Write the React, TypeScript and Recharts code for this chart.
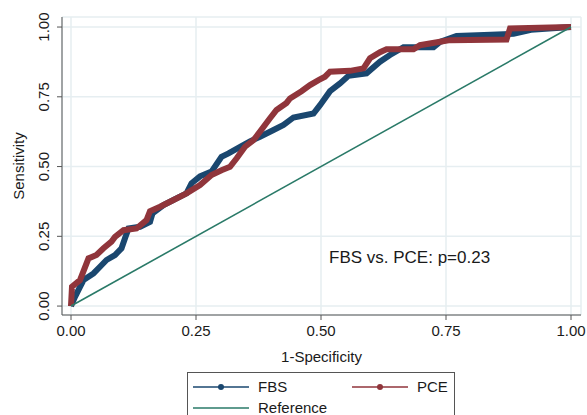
import React from 'react';
import {
  LineChart,
  Line,
  XAxis,
  YAxis,
  CartesianGrid,
  Legend,
  ReferenceDot,
} from 'recharts';

// ROC points (1-specificity, sensitivity)
const fbsFpr = [
  0, 0.008, 0.018, 0.025, 0.045, 0.058, 0.071, 0.088, 0.101, 0.108, 0.115,
  0.138, 0.158, 0.163, 0.185, 0.211, 0.231, 0.241, 0.258, 0.281, 0.301, 0.315,
  0.34, 0.358, 0.378, 0.405, 0.425, 0.445, 0.485, 0.498, 0.518, 0.538, 0.555,
  0.591, 0.618, 0.638, 0.665, 0.725, 0.738, 0.771, 0.84, 0.885, 0.92, 1,
];
const fbsTpr = [
  0, 0.033, 0.069, 0.093, 0.117, 0.141, 0.165, 0.183, 0.207, 0.243, 0.278,
  0.284, 0.302, 0.332, 0.362, 0.386, 0.404, 0.44, 0.465, 0.482, 0.535, 0.547,
  0.572, 0.59, 0.607, 0.631, 0.649, 0.676, 0.69, 0.72, 0.77, 0.798, 0.825,
  0.834, 0.876, 0.9, 0.928, 0.928, 0.947, 0.968, 0.972, 0.976, 0.99, 1,
];
const pceFpr = [
  0, 0.002, 0.018, 0.035, 0.051, 0.065, 0.081, 0.088, 0.105, 0.131, 0.151,
  0.158, 0.178, 0.205, 0.231, 0.258, 0.281, 0.301, 0.318, 0.331, 0.348, 0.365,
  0.378, 0.398, 0.411, 0.431, 0.438, 0.461, 0.478, 0.495, 0.508, 0.518, 0.558,
  0.585, 0.598, 0.618, 0.631, 0.685, 0.698, 0.738, 0.758, 0.871, 0.878, 1,
];
const pceTpr = [
  0, 0.069, 0.093, 0.171, 0.183, 0.207, 0.231, 0.248, 0.272, 0.278, 0.308,
  0.34, 0.356, 0.38, 0.404, 0.434, 0.47, 0.487, 0.499, 0.529, 0.571, 0.595,
  0.625, 0.673, 0.703, 0.728, 0.744, 0.77, 0.792, 0.81, 0.822, 0.84, 0.843,
  0.852, 0.888, 0.91, 0.92, 0.92, 0.935, 0.947, 0.953, 0.955, 0.995, 1,
];
const refFpr = [0, 1];
const refTpr = [0, 1];

const axisTicks = [0, 0.25, 0.5, 0.75, 1];
const annotation = 'FBS vs. PCE: p=0.23';

const toPoints = (xs: number[], ys: number[]) => xs.map((x, i) => ({ x, y: ys[i] }));

const fbsData = toPoints(fbsFpr, fbsTpr);
const pceData = toPoints(pceFpr, pceTpr);
const refData = toPoints(refFpr, refTpr);

const FONT = '"Liberation Sans", Arial, sans-serif';
const NAVY = '#1a476f';
const MAROON = '#90353b';
const TEAL = '#2a7a68';

function YTick({ x, y, payload }: any) {
  return (
    <text
      transform={`translate(${x},${y}) rotate(-90)`}
      textAnchor="middle"
      fontSize={15}
      fontFamily={FONT}
      fill="#1a1a1a"
    >
      {Number(payload.value).toFixed(2)}
    </text>
  );
}

function StataLegend({ payload }: any) {
  const items = payload ?? [];
  const slots = [
    { x: 6, y: 15 },
    { x: 165, y: 15 },
    { x: 6, y: 36 },
  ];
  return (
    <svg width={268} height={50} style={{ display: 'block' }}>
      <rect x={0.5} y={0.5} width={267} height={60} fill="#fff" stroke="#555" />
      {items.map((it: any, i: number) => {
        const s = slots[i];
        if (!s) return null;
        return (
          <g key={it.value}>
            <line x1={s.x} x2={s.x + 56} y1={s.y} y2={s.y} stroke={it.color} strokeWidth={1.6} />
            {it.type === 'circle' && <circle cx={s.x + 28} cy={s.y} r={3} fill={it.color} />}
            <text
              x={s.x + 65}
              y={s.y + 5}
              fontSize={15}
              fontFamily={FONT}
              fill="#1a1a1a"
            >
              {it.value}
            </text>
          </g>
        );
      })}
    </svg>
  );
}

export default function App() {
  return (
    <div style={{ position: 'absolute', left: 0, top: 0, background: '#fff' }}>
      <LineChart
        width={587}
        height={415}
        margin={{ top: 17, right: 6, bottom: 0, left: 0 }}
        style={{ fontFamily: FONT }}
      >
        <CartesianGrid stroke="#e6eef1" strokeWidth={1.5} />
        <XAxis
          dataKey="x"
          type="number"
          domain={[-0.018, 1.02]}
          ticks={axisTicks}
          allowDataOverflow
          height={100}
          tickFormatter={(v: number) => v.toFixed(2)}
          tick={{ fontSize: 15, fill: '#1a1a1a', fontFamily: FONT }}
          tickSize={5}
          tickMargin={5}
          axisLine={{ stroke: '#555' }}
          tickLine={{ stroke: '#555' }}
          label={{
            content: ({ viewBox }: any) => (
              <text
                x={viewBox.x + viewBox.width / 2}
                y={viewBox.y + 47}
                textAnchor="middle"
                fontSize={15}
                fontFamily={FONT}
                fill="#1a1a1a"
              >
                1-Specificity
              </text>
            ),
          }}
        />
        <YAxis
          type="number"
          domain={[-0.032, 1.036]}
          ticks={axisTicks}
          allowDataOverflow
          width={62}
          tick={<YTick />}
          tickSize={5}
          tickMargin={8}
          axisLine={{ stroke: '#555' }}
          tickLine={{ stroke: '#555' }}
          label={{
            content: ({ viewBox }: any) => (
              <text
                transform={`translate(${viewBox.x + 23.5},${viewBox.y + viewBox.height / 2}) rotate(-90)`}
                textAnchor="middle"
                fontSize={15}
                fontFamily={FONT}
                fill="#1a1a1a"
              >
                Sensitivity
              </text>
            ),
          }}
        />
        <Line
          data={fbsData}
          dataKey="y"
          name="FBS"
          stroke={NAVY}
          strokeWidth={6}
          dot={false}
          legendType="circle"
          isAnimationActive={false}
        />
        <Line
          data={pceData}
          dataKey="y"
          name="PCE"
          stroke={MAROON}
          strokeWidth={6}
          dot={false}
          legendType="circle"
          isAnimationActive={false}
        />
        <Line
          data={refData}
          dataKey="y"
          name="Reference"
          stroke={TEAL}
          strokeWidth={1.6}
          dot={false}
          legendType="line"
          isAnimationActive={false}
        />
        <ReferenceDot
          x={0.516}
          y={0.154}
          r={0}
          fill="none"
          stroke="none"
          label={{
            content: ({ viewBox }: any) => (
              <text
                x={viewBox.x}
                y={viewBox.y}
                fontSize={17}
                fontFamily={FONT}
                fill="#1a1a1a"
              >
                {annotation}
              </text>
            ),
          }}
        />
        <Legend
          layout="horizontal"
          verticalAlign="middle"
          align="center"
          content={<StataLegend />}
          wrapperStyle={{ left: 187, top: 372, width: 268, height: 50 }}
        />
      </LineChart>
    </div>
  );
}
